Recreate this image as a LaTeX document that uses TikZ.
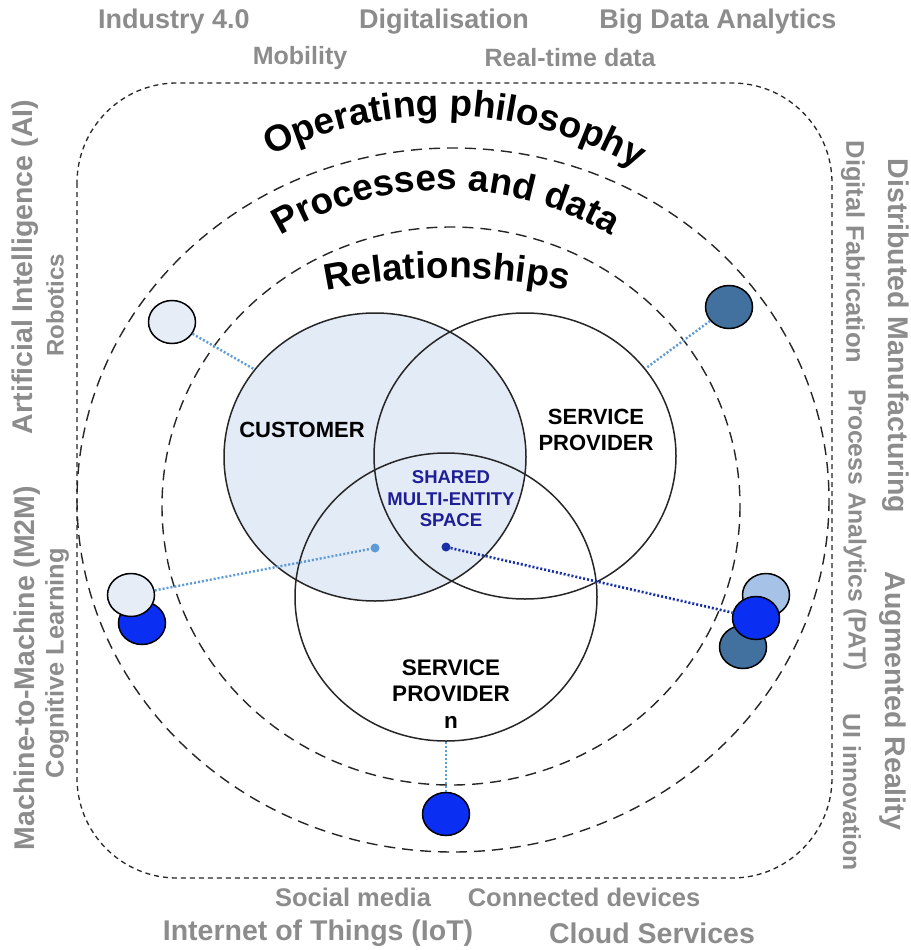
\documentclass[tikz,border=0pt]{standalone}
\usepackage{fontspec}
\setmainfont{Liberation Sans}
\usetikzlibrary{shapes.geometric,decorations.text}
\definecolor{labgray}{HTML}{8C8C8C}
\definecolor{custfill}{HTML}{E3EBF6}
\definecolor{lightnode}{HTML}{E7EDF7}
\definecolor{steel}{HTML}{43719F}
\definecolor{lightblue}{HTML}{A6C3E7}
\definecolor{brightblue}{HTML}{0A2EF2}
\definecolor{dotlight}{HTML}{5D9BD6}
\definecolor{dotdark}{HTML}{1730A8}
\definecolor{navytext}{HTML}{1E1E96}
\begin{document}
\begin{tikzpicture}[x=1pt,y=-1pt,
  glab/.style={text=labgray, inner sep=0pt, font=\bfseries\fontsize{#1}{#1}\selectfont},
  venn/.style={ellipse, draw=black!85, line width=1.5pt, inner sep=0pt},
  vlab/.style={inner sep=0pt, align=center, font=\bfseries\fontsize{22}{26}\selectfont},
  ring/.style={draw=black!85, line width=1.4pt, dash pattern=on 11pt off 7pt},
  bubble/.style={ellipse, draw=black, line width=1.5pt, inner sep=0pt, minimum width=47pt, minimum height=43pt},
  conn/.style={draw=dotlight, line width=2.4pt, dash pattern=on 2pt off 2pt},
  conndark/.style={draw=dotdark, line width=2.6pt, dash pattern=on 2pt off 2pt},
  enddot/.style={circle, inner sep=0pt, minimum size=9pt}
]
\useasboundingbox (0,0) rectangle (910,950);
\fill[white] (0,0) rectangle (910,950);

% outer rounded frame and rings
\draw[draw=black!85, line width=1.3pt, dash pattern=on 5pt off 4pt, rounded corners=100pt] (77,83) rectangle (832,878);
\draw[ring] (453,500) ellipse [x radius=376, y radius=352];
\draw[ring] (451,506) ellipse [x radius=289, y radius=279];

% arc titles
\path[decorate, decoration={text along path, text align=center,
  text={|\bfseries\fontsize{37}{37}\selectfont|Operating philosophy}}]
  (442,504) ++(202:388) arc[start angle=202, end angle=342, radius=388];
\path[decorate, decoration={text along path, text align=center,
  text={|\bfseries\fontsize{37}{37}\selectfont|Processes and data}}]
  (446,512) ++(200:322) arc[start angle=200, end angle=340, radius=322];
\path[decorate, decoration={text along path, text align=center,
  text={|\bfseries\fontsize{37}{37}\selectfont|Relationships}}]
  (447,876) ++(240:598) arc[start angle=240, end angle=300, radius=598];

% Venn circles
\node[venn, fill=custfill, minimum width=302pt, minimum height=288pt] (cust) at (375,457) {};
\node[venn, minimum width=302pt, minimum height=286pt] (sp) at (525,456) {};
\node[venn, minimum width=302pt, minimum height=288pt] (spn) at (446,597) {};

\node[vlab] (custlab) at (302,430) {CUSTOMER};
\node[vlab] (splab) at (596,430) {SERVICE\\PROVIDER};
\node[vlab, text=navytext, font=\bfseries\fontsize{18.5}{21.5}\selectfont] (shared) at (451,499) {SHARED\\MULTI-ENTITY\\SPACE};
\node[vlab, font=\bfseries\fontsize{22.5}{26.5}\selectfont] (spnlab) at (451,694) {SERVICE\\PROVIDER\\n};

% end dots
\node[enddot, fill=dotlight] (dL) at (375,548) {};
\node[enddot, fill=dotdark] (dR) at (446,547) {};

% bubbles
\node[bubble, fill=lightnode] (nTL) at (172,322) {};
\node[bubble, fill=steel] (nTR) at (729,307) {};
\node[bubble, fill=brightblue] (nL2) at (142,623) {};
\node[bubble, fill=lightnode] (nL1) at (131,595) {};
\node[bubble, fill=steel] (nR3) at (743,647) {};
\node[bubble, fill=lightblue] (nR1) at (766,595) {};
\node[bubble, fill=brightblue] (nR2) at (756,618) {};
\node[bubble, fill=brightblue] (nB) at (446,814) {};

% connectors
\draw[conn] (nTL) -- (cust.144);
\draw[conn] (nTR) -- (sp.36);
\draw[conn] (nL1) -- (dL);
\draw[conndark] (dR) -- (nR2);
\draw[conn] (spn.south) -- (nB);

% gray labels: top
\node[glab=27] (t1) at (174,22) {Industry 4.0};
\node[glab=27] (t2) at (444,22) {Digitalisation};
\node[glab=27] (t3) at (718,22) {Big Data Analytics};
\node[glab=25] (t4) at (300,58) {Mobility};
\node[glab=25] (t5) at (570,58) {Real-time data};
% bottom
\node[glab=25.5] (b1) at (353,897) {Social media};
\node[glab=25.5] (b2) at (584,897) {Connected devices};
\node[glab=28.5] (b3) at (318,933) {Internet of Things (IoT)};
\node[glab=28.5] (b4) at (652,933) {Cloud Services};
% left
\node[glab=28.5, rotate=90] (l1) at (25,267) {Artificial Intelligence (AI)};
\node[glab=24, rotate=90] (l2) at (55,305) {Robotics};
\node[glab=28.5, rotate=90] (l3) at (27,668) {Machine-to-Machine (M2M)};
\node[glab=25.4, rotate=90] (l4) at (57,663) {Cognitive Learning};
% right
\node[glab=28.5, rotate=-90] (r1) at (896,336) {Distributed Manufacturing};
\node[glab=25.5, rotate=-90] (r2) at (853,252) {Digital Fabrication};
\node[glab=24.7, rotate=-90] (r3) at (855,530) {Process Analytics (PAT)};
\node[glab=28.5, rotate=-90] (r4) at (893,701) {Augmented Reality};
\node[glab=24.8, rotate=-90] (r5) at (852,792) {UI innovation};
\end{tikzpicture}
\end{document}
